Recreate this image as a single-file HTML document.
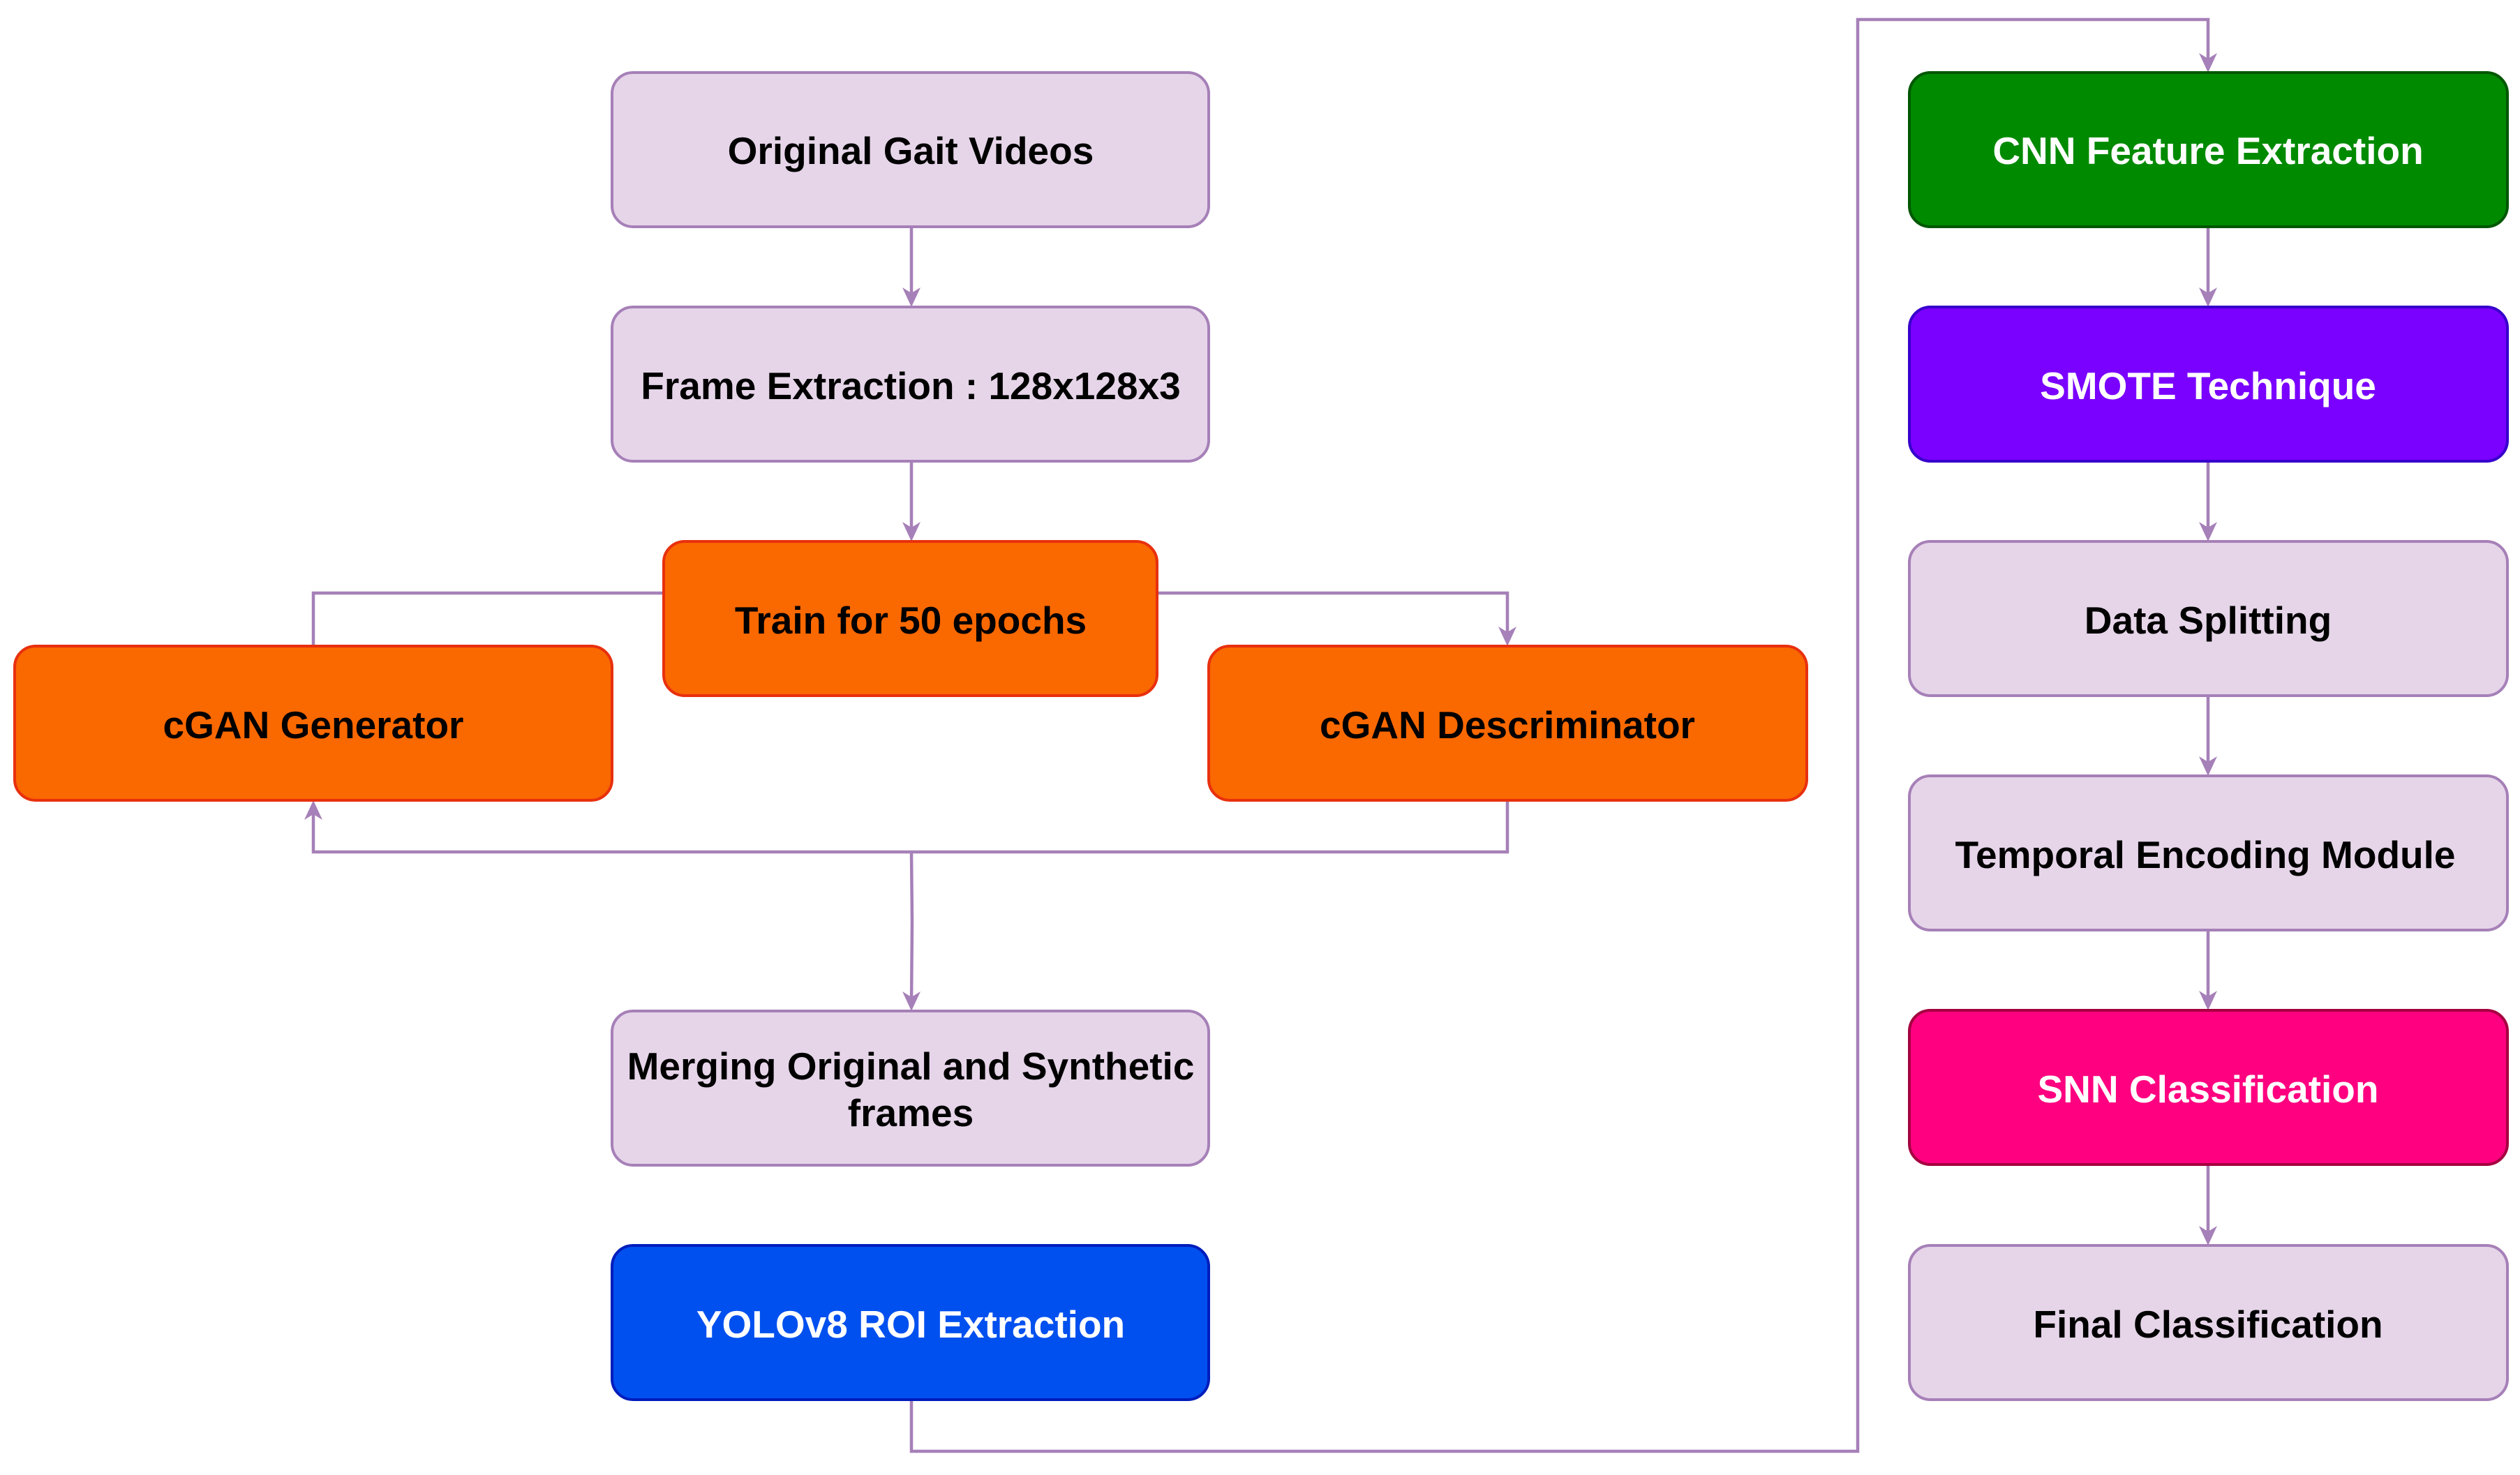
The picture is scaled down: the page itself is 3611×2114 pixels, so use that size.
<!DOCTYPE html>
<html><head><meta charset="utf-8"><style>
html,body{margin:0;padding:0;background:#fff;}
svg{display:block;}
text{font-family:"Liberation Sans",Arial,sans-serif;font-weight:bold;font-size:55px;text-anchor:middle;dominant-baseline:central;}
</style></head><body>
<svg width="3611" height="2114" viewBox="0 0 3611 2114" xmlns="http://www.w3.org/2000/svg">
<defs>
<marker id="a" markerWidth="10" markerHeight="10" refX="8" refY="5" orient="auto" markerUnits="userSpaceOnUse" viewBox="0 0 10 10">
</marker>
</defs>
<g fill="none" stroke="#a680b8" stroke-width="4.5">
<!-- left column -->
<line x1="1306" y1="325" x2="1306" y2="430"/>
<line x1="1306" y1="661" x2="1306" y2="766"/>
<polyline points="951,850 449,850 449,926"/>
<polyline points="1658,850 2160,850 2160,916"/>
<polyline points="2160,1147 2160,1221 449,1221 449,1160"/>
<polyline points="1306,1221 1307,1320 1306,1439"/>
<polyline points="1306,2006 1306,2080 2662,2080 2662,28 3164,28 3164,94"/>
<!-- right column -->
<line x1="3164" y1="325" x2="3164" y2="430"/>
<line x1="3164" y1="661" x2="3164" y2="766"/>
<line x1="3164" y1="997" x2="3164" y2="1102"/>
<line x1="3164" y1="1333" x2="3164" y2="1438"/>
<line x1="3164" y1="1670" x2="3164" y2="1775"/>
</g>
<g fill="#a680b8">
<polygon points="1293,412 1306,440 1319,412 1306,420"/>
<polygon points="1293,748 1306,776 1319,748 1306,756"/>
<polygon points="2147,898 2160,926 2173,898 2160,906"/>
<polygon points="436,1175 449,1147 462,1175 449,1167"/>
<polygon points="1293,1421 1306,1449 1319,1421 1306,1429"/>
<polygon points="3151,76 3164,104 3177,76 3164,84"/>
<polygon points="3151,412 3164,440 3177,412 3164,420"/>
<polygon points="3151,748 3164,776 3177,748 3164,756"/>
<polygon points="3151,1084 3164,1112 3177,1084 3164,1092"/>
<polygon points="3151,1420 3164,1448 3177,1420 3164,1428"/>
<polygon points="3151,1757 3164,1785 3177,1757 3164,1765"/>
</g>
<g stroke-width="4">
<rect x="877" y="104" width="855" height="221" rx="30" fill="#e6d5e9" stroke="#a680b8"/>
<rect x="877" y="440" width="855" height="221" rx="30" fill="#e6d5e9" stroke="#a680b8"/>
<rect x="951" y="776" width="707" height="221" rx="30" fill="#fa6800" stroke="#e8300e"/>
<rect x="21" y="926" width="856" height="221" rx="30" fill="#fa6800" stroke="#e8300e"/>
<rect x="1732" y="926" width="857" height="221" rx="30" fill="#fa6800" stroke="#e8300e"/>
<rect x="877" y="1449" width="855" height="221" rx="30" fill="#e6d5e9" stroke="#a680b8"/>
<rect x="877" y="1785" width="855" height="221" rx="30" fill="#0050ef" stroke="#001dbc"/>
<rect x="2736" y="104" width="857" height="221" rx="30" fill="#008a00" stroke="#005700"/>
<rect x="2736" y="440" width="857" height="221" rx="30" fill="#7a00ff" stroke="#3700cc"/>
<rect x="2736" y="776" width="857" height="221" rx="30" fill="#e6d5e9" stroke="#a680b8"/>
<rect x="2736" y="1112" width="857" height="221" rx="30" fill="#e6d5e9" stroke="#a680b8"/>
<rect x="2736" y="1448" width="857" height="221" rx="30" fill="#ff0080" stroke="#a50040"/>
<rect x="2736" y="1785" width="857" height="221" rx="30" fill="#e6d5e9" stroke="#a680b8"/>
</g>
<g fill="#000">
<text x="1305" y="216">Original Gait Videos</text>
<text x="1305" y="553">Frame Extraction : 128x128x3</text>
<text x="1305" y="889">Train for 50 epochs</text>
<text x="449" y="1039">cGAN Generator</text>
<text x="2160" y="1039">cGAN Descriminator</text>
<text x="1305" y="1528">Merging Original and Synthetic</text>
<text x="1305" y="1595">frames</text>
<text x="3164" y="889">Data Splitting</text>
<text x="3160" y="1225">Temporal Encoding Module</text>
<text x="3164" y="1898">Final Classification</text>
</g>
<g fill="#fff">
<text x="1305" y="1898">YOLOv8 ROI Extraction</text>
<text x="3164" y="216">CNN Feature Extraction</text>
<text x="3164" y="553">SMOTE Technique</text>
<text x="3164" y="1561">SNN Classification</text>
</g>
</svg>
</body></html>
